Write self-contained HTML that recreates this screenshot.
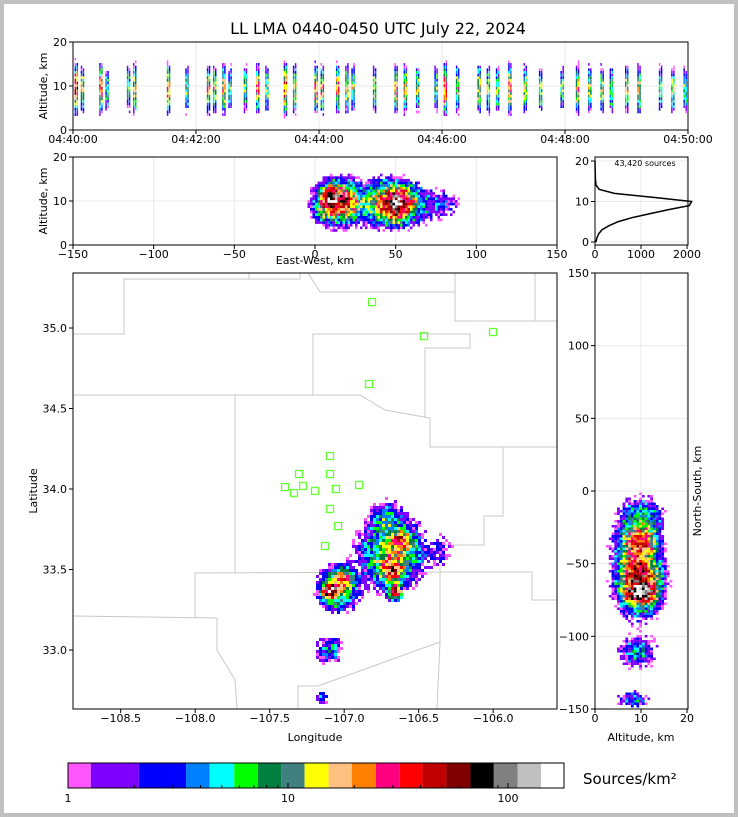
<!DOCTYPE html>
<html><head><meta charset="utf-8"><style>
body{margin:0;background:#c0c0c0;}
svg{display:block;font-family:"DejaVu Sans","Liberation Sans",sans-serif;}
</style></head><body>
<svg id="fig" width="738" height="817" xmlns="http://www.w3.org/2000/svg">
<rect x="4" y="4" width="730" height="809" fill="#fff"/>
<text x="378" y="34" font-size="16" text-anchor="middle">LL LMA 0440-0450 UTC July 22, 2024</text>
<g id="layer"></g>
</svg>
<script>
// ---------- data ----------
const cbBounds = [1,1.27,2.1,3.44,4.4,5.7,7.3,9.3,11.9,15.3,19.5,25.1,32.2,40.9,52.5,67.5,86.2,110.5,141.4,180];
const cbColors = ['#ff55ff','#8000ff','#0000ff','#0080ff','#00ffff','#00ff00','#008040','#408080','#ffff00','#ffc080','#ff8000','#ff0080','#ff0000','#c00000','#800000','#000000','#808080','#c0c0c0','#ffffff'];
// storm cells: lon, lat, peak density, spread(deg), altitude center(km), alt spread
const cellLon = [-106.68,-107.04,-106.72,-107.10,-107.15,-106.35,-107.09,-106.66,-106.62,-106.68,-107.0];
const cellLat = [33.60,33.38,33.82,33.00,32.70,33.62,33.37,33.36,33.68,33.50,33.44];
const cellPeak = [14,16,6,5,4,2.2,110,70,35,35,25];
const cellSpread = [0.11,0.07,0.06,0.05,0.025,0.06,0.026,0.022,0.035,0.045,0.035];
const cellAlt = [9,9.5,10,9,8,9,10,9,9.5,9,9.5];
const cellAltSd = [2.6,2.6,2.4,2.2,2,2,1.4,1.4,1.7,1.8,1.8];
// flashes in time-height panel (minutes after 04:40) and intensity
const flashMin = [0.05,0.15,0.45,0.55,0.9,1.0,1.55,1.85,2.2,2.3,2.45,2.55,2.8,3.0,3.15,3.45,3.6,3.95,4.05,4.3,4.45,4.55,4.9,5.25,5.4,5.6,5.9,6.05,6.25,6.6,6.75,6.9,7.1,7.35,7.6,7.95,8.2,8.4,8.6,8.75,9.0,9.2,9.55,9.75,9.95];
const flashPeak = [40,15,28,8,10,18,24,12,20,15,18,10,10,20,12,32,15,26,18,20,15,12,15,24,20,12,10,32,15,18,12,10,20,15,12,10,20,15,12,10,15,18,10,12,10];
// altitude histogram (counts per km, 0..20)
const histAlt = [0,1,2,3,4,5,6,7,8,9,10,11,12,13,14,15,16,17,18,19,20];
const histCount = [20,40,80,150,300,500,800,1200,1600,2050,2100,1300,420,90,25,12,8,5,3,2,1];
// LMA stations
const staLon = [-106.813,-106.464,-106.001,-106.833,-107.095,-107.303,-107.095,-107.397,-107.276,-107.337,-107.196,-107.055,-106.900,-107.095,-107.041,-107.129];
const staLat = [35.161,34.950,34.975,34.652,34.205,34.093,34.093,34.012,34.019,33.975,33.988,34.0,34.025,33.876,33.770,33.646];

// ---------- helpers ----------
const NS='http://www.w3.org/2000/svg';
const L=document.getElementById('layer');
function el(tag,attrs,parent){const e=document.createElementNS(NS,tag);for(const k in attrs)e.setAttribute(k,attrs[k]);(parent||L).appendChild(e);return e;}
function color(v){if(v<1)return null;for(let i=0;i<cbColors.length;i++){if(v<cbBounds[i+1])return cbColors[i];}return cbColors[cbColors.length-1];}
function txt(x,y,s,fs,anchor,parent,rot){const t=el('text',{x:x,y:y,'font-size':fs||11,'text-anchor':anchor||'middle'},parent);if(rot)t.setAttribute('transform','rotate(-90 '+x+' '+y+')');t.textContent=s;return t;}
// deterministic texture (speckle) factor for rendering only
function tex(a,b){let h=Math.sin(a*12.9898+b*78.233)*43758.5453;h=h-Math.floor(h);return 0.45+1.3*h*h;}
// axis scales
const lonX = lon => 73 + (lon + 108.82) * 149;
const latY = lat => 328 + (35.0 - lat) * 161;
const kmX = km => 315 + km * 1.6133;
const nsY = km => 491 - km * 1.4533;
const altYmid = a => 245 - a * 4.4;
const altXr = a => 595 + a * 4.6;
const timeX = m => 73 + m * 61.5;
const altYtop = a => 130 - a * 4.4;
const hX = c => 595 + c * 0.0460;
const hY = a => 242 - a * 4.05;
const pxToLon = x => (x-73)/149 - 108.82;
const pxToLat = y => 35 - (y-328)/161;
function dens2D(lon,lat){let s=0;for(let i=0;i<cellLon.length;i++){const dx=(lon-cellLon[i])/cellSpread[i],dy=(lat-cellLat[i])/cellSpread[i];s+=cellPeak[i]*Math.exp(-(dx*dx+dy*dy)/2);}return s;}

// ---------- top panel ----------
const gT=el('g',{});


[0,2,4,6,8,10].forEach(m=>el('line',{x1:timeX(m),x2:timeX(m),y1:42,y2:130,stroke:'#e8e8e8'},gT));
el('line',{x1:73,x2:688,y1:altYtop(10),y2:altYtop(10),stroke:'#e8e8e8'},gT);
flashMin.forEach((m,i)=>{for(let k=0;k<2;k++){const x=timeX(m)-1.5+k*2;for(let a=2;a<17;a+=0.6){const v=flashPeak[i]*Math.exp(-Math.pow(a-9,2)/(2*2.4*2.4))*tex(x,a*7);const c=color(v);if(c){const r=el('rect',{x:x,y:altYtop(a)-2.7,width:1.5,height:2.7,fill:c},gT);}}}});
el('rect',{x:73,y:42,width:615,height:88,fill:'none',stroke:'#000'},gT);
['04:40:00','04:42:00','04:44:00','04:46:00','04:48:00','04:50:00'].forEach((s,i)=>{el('line',{x1:timeX(i*2),x2:timeX(i*2),y1:130,y2:134,stroke:'#000'},gT);txt(timeX(i*2),143,s,11,'middle',gT);});
[0,10,20].forEach(a=>{el('line',{x1:69,x2:73,y1:altYtop(a),y2:altYtop(a),stroke:'#000'},gT);txt(67,altYtop(a)+4,a,11,'end',gT);});
txt(47,86,'Altitude, km',11,'middle',gT,true);

// ---------- middle panel (EW vs alt) ----------
const gM=el('g',{});


[-150,-100,-50,0,50,100,150].forEach(k=>el('line',{x1:kmX(k),x2:kmX(k),y1:157,y2:245,stroke:'#e8e8e8'},gM));
el('line',{x1:73,x2:557,y1:altYmid(10),y2:altYmid(10),stroke:'#e8e8e8'},gM);
for(let x=300;x<480;x+=2.5){for(let a=0;a<20;a+=0.6){const lon=pxToLon(x);let s=0;for(let i=0;i<cellLon.length;i++){const dx=(lon-cellLon[i])/(cellSpread[i]*1.2),da=(a-cellAlt[i])/cellAltSd[i];s+=cellPeak[i]*Math.exp(-(dx*dx+da*da)/2);}s*=1.1*tex(x,a*11);const c=color(s);if(c){const r=el('rect',{x:x,y:altYmid(a)-2.7,width:2.5,height:2.7,fill:c},gM);}}}
el('rect',{x:73,y:157,width:484,height:88,fill:'none',stroke:'#000'},gM);
[-150,-100,-50,0,50,100,150].forEach(k=>{el('line',{x1:kmX(k),x2:kmX(k),y1:245,y2:249,stroke:'#000'},gM);txt(kmX(k),258,k<0?'\u2212'+(-k):k,11,'middle',gM);});
[0,10,20].forEach(a=>{el('line',{x1:69,x2:73,y1:altYmid(a),y2:altYmid(a),stroke:'#000'},gM);txt(67,altYmid(a)+4,a,11,'end',gM);});
txt(47,201,'Altitude, km',11,'middle',gM,true);
txt(315,264,'East-West, km',11,'middle',gM);

// ---------- histogram panel ----------
const gH=el('g',{});


[0,1000,2000].forEach(c=>el('line',{x1:hX(c),x2:hX(c),y1:157,y2:245,stroke:'#e8e8e8'},gH));
[0,10,20].forEach(a=>el('line',{x1:595,x2:688,y1:hY(a),y2:hY(a),stroke:'#e8e8e8'},gH));
const hp=el('polyline',{points:histAlt.map((a,i)=>hX(histCount[i])+','+hY(a)).join(' '),fill:'none',stroke:'#000','stroke-width':1.5},gH);


el('rect',{x:595,y:157,width:93,height:88,fill:'none',stroke:'#000'},gH);
txt(645,166,'43,420 sources',8,'middle',gH);
[0,1000,2000].forEach(c=>{el('line',{x1:hX(c),x2:hX(c),y1:245,y2:249,stroke:'#000'},gH);txt(hX(c),258,c,11,'middle',gH);});
[0,10,20].forEach(a=>{el('line',{x1:591,x2:595,y1:hY(a),y2:hY(a),stroke:'#000'},gH);txt(589,hY(a)+4,a,11,'end',gH);});

// ---------- map panel ----------
const gP=el('g',{});


const borders=['M73 334 L124 334 L124 279 L249 279 L249 273','M249 279 L300 279 L300 273','M308 273 L320 292 L455 292 L455 321 L557 321','M455 273 L455 292','M535 273 L535 321','M313 395 L313 334 L470 334 L470 348 L425 348 L425 418','M73 395 L360 395 L385 410 L430 418 L430 447 L557 447','M235 395 L235 573','M195 617 L195 573 L440 572 L440 545 L484 545 L484 516 L503 516 L503 447','M440 572 L520 572 L532 572 L532 600 L557 600','M73 616 L217 618 L217 650 L235 680 L237 709','M440 545 L440 642 L318 686 L298 686 L298 709','M440 642 L437 709'];
borders.forEach(d=>{const p=el('path',{d:d,fill:'none',stroke:'#c8c8c8','stroke-width':1},gP);});
for(let x=280;x<560;x+=3){for(let y=470;y<709;y+=3){const v=dens2D(pxToLon(x+1.5),pxToLat(y+1.5))*tex(x,y);const c=color(v);if(c){const r=el('rect',{x:x,y:y,width:3,height:3,fill:c},gP);}}}
staLon.forEach((lo,i)=>{const r=el('rect',{x:lonX(lo)-3.5,y:latY(staLat[i])-3.5,width:7,height:7,fill:'none',stroke:'#66ff33','stroke-width':1.3},gP);});
el('rect',{x:73,y:273,width:484,height:436,fill:'none',stroke:'#000'},gP);
[-108.5,-108.0,-107.5,-107.0,-106.5,-106.0].forEach(lo=>{el('line',{x1:lonX(lo),x2:lonX(lo),y1:709,y2:713,stroke:'#000'},gP);txt(lonX(lo),722,'\u2212'+(-lo).toFixed(1),11,'middle',gP);});
[33.0,33.5,34.0,34.5,35.0].forEach(la=>{el('line',{x1:69,x2:73,y1:latY(la),y2:latY(la),stroke:'#000'},gP);txt(67,latY(la)+4,la.toFixed(1),11,'end',gP);});
txt(315,741,'Longitude',11,'middle',gP);
txt(37,491,'Latitude',11,'middle',gP,true);

// ---------- right panel (alt vs NS) ----------
const gR=el('g',{});


[0,10,20].forEach(a=>el('line',{x1:altXr(a),x2:altXr(a),y1:273,y2:709,stroke:'#e8e8e8'},gR));
[100,50,0,-50,-100].forEach(k=>el('line',{x1:595,x2:688,y1:nsY(k),y2:nsY(k),stroke:'#e8e8e8'},gR));
for(let y=470;y<709;y+=2.5){for(let a=0;a<20;a+=0.6){const lat=pxToLat(y);let s=0;for(let i=0;i<cellLon.length;i++){const dy=(lat-cellLat[i])/(cellSpread[i]*1.2),da=(a-cellAlt[i])/cellAltSd[i];s+=cellPeak[i]*Math.exp(-(dy*dy+da*da)/2);}s*=1.1*tex(a*13,y);const c=color(s);if(c){const r=el('rect',{x:altXr(a),y:y,width:2.8,height:2.5,fill:c},gR);}}}
el('rect',{x:595,y:273,width:93,height:436,fill:'none',stroke:'#000'},gR);
[0,10,20].forEach(a=>{el('line',{x1:altXr(a),x2:altXr(a),y1:709,y2:713,stroke:'#000'},gR);txt(altXr(a),722,a,11,'middle',gR);});
[150,100,50,0,-50,-100,-150].forEach(k=>{el('line',{x1:591,x2:595,y1:nsY(k),y2:nsY(k),stroke:'#000'},gR);txt(589,nsY(k)+4,k<0?'\u2212'+(-k):k,11,'end',gR);});
txt(641,741,'Altitude, km',11,'middle',gR);
txt(701,491,'North-South, km',11,'middle',gR,true);

// ---------- colorbar ----------
const gC=el('g',{});


const cbX = v => 68 + Math.log10(v) * 220;
cbColors.forEach((c,i)=>{const r=el('rect',{x:cbX(cbBounds[i]),y:763,width:cbX(cbBounds[i+1])-cbX(cbBounds[i]),height:25,fill:c},gC);});
el('rect',{x:68,y:763,width:496,height:25,fill:'none',stroke:'#000'},gC);
[2,3,4,5,6,7,8,9,20,30,40,50,60,70,80,90].forEach(v=>el('line',{x1:cbX(v),x2:cbX(v),y1:788,y2:785,stroke:'#000'},gC));
[1,10,100].forEach(v=>{el('line',{x1:cbX(v),x2:cbX(v),y1:788,y2:783,stroke:'#000'},gC);txt(cbX(v),802,v,11,'middle',gC);});
const ct=txt(583,784,'Sources/km\u00b2',15,'start',gC);


</script>
</body></html>
